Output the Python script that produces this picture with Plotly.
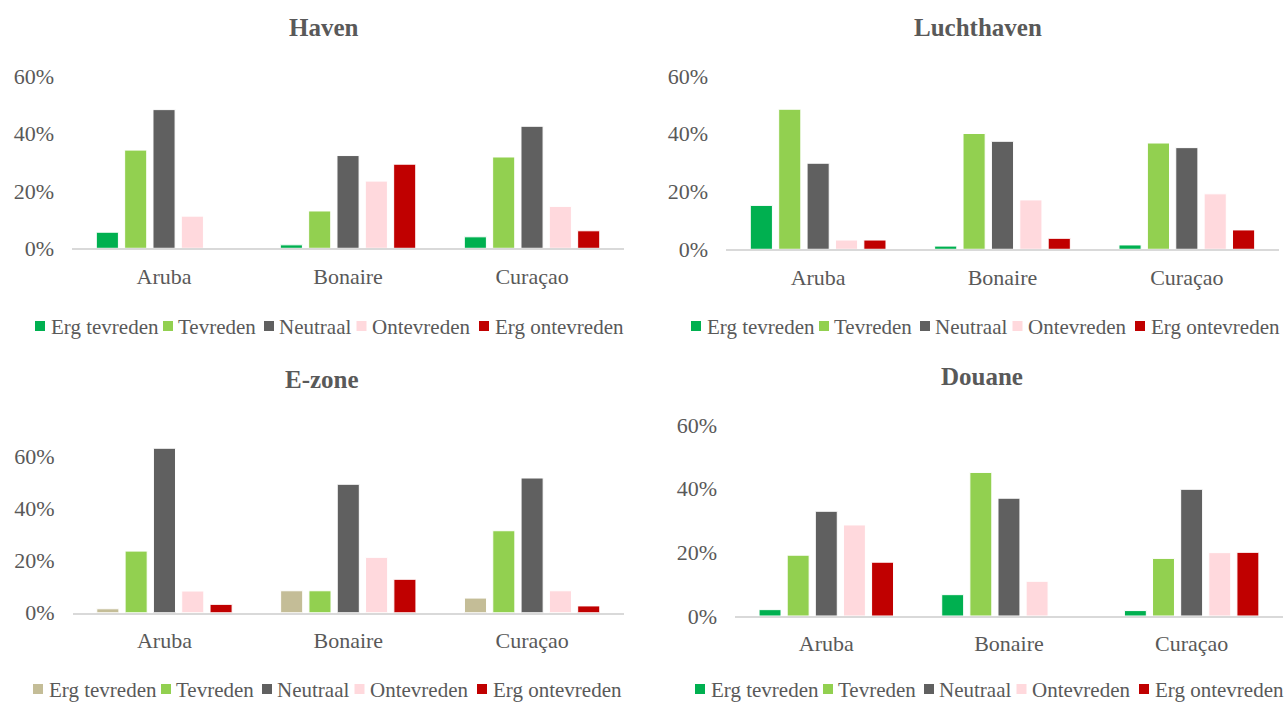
import plotly.graph_objects as go

categories = ["Aruba", "Bonaire", "Curaçao"]
series_names = ["Erg tevreden", "Tevreden", "Neutraal", "Ontevreden", "Erg ontevreden"]

# values per panel, per series (fractions), order: Aruba, Bonaire, Curaçao
haven_erg_tevreden = [0.056, 0.012, 0.040]
haven_tevreden = [0.342, 0.130, 0.318]
haven_neutraal = [0.483, 0.323, 0.425]
haven_ontevreden = [0.112, 0.234, 0.146]
haven_erg_ontevreden = [0.0, 0.293, 0.061]

lucht_erg_tevreden = [0.152, 0.011, 0.015]
lucht_tevreden = [0.485, 0.401, 0.368]
lucht_neutraal = [0.298, 0.374, 0.352]
lucht_ontevreden = [0.032, 0.171, 0.192]
lucht_erg_ontevreden = [0.032, 0.038, 0.067]

ezone_erg_tevreden = [0.015, 0.084, 0.056]
ezone_tevreden = [0.236, 0.084, 0.314]
ezone_neutraal = [0.630, 0.492, 0.516]
ezone_ontevreden = [0.083, 0.212, 0.084]
ezone_erg_ontevreden = [0.032, 0.128, 0.026]

douane_erg_tevreden = [0.020, 0.067, 0.017]
douane_tevreden = [0.191, 0.451, 0.181]
douane_neutraal = [0.329, 0.370, 0.398]
douane_ontevreden = [0.286, 0.109, 0.199]
douane_erg_ontevreden = [0.169, 0.0, 0.200]

panel_titles = ["Haven", "Luchthaven", "E-zone", "Douane"]
y_tick_vals = [0, 0.2, 0.4, 0.6]
y_tick_text = ["0%", "20%", "40%", "60%"]

colors = ["#00B050", "#92D050", "#606060", "#FFD9DD", "#C00000"]
colors_ezone = ["#C4BD97", "#92D050", "#606060", "#FFD9DD", "#C00000"]

W, H = 1284, 702

panels = [
    dict(title=panel_titles[0], data=[haven_erg_tevreden, haven_tevreden, haven_neutraal, haven_ontevreden, haven_erg_ontevreden],
         colors=colors, xdom=[0.0561, 0.4860], ydom=[0.6463, 0.8917], yrange=[0, 0.6],
         tx=0.2527, ty=0.9615, lx=35, ly=327),
    dict(title=panel_titles[1], data=[lucht_erg_tevreden, lucht_tevreden, lucht_neutraal, lucht_ontevreden, lucht_erg_ontevreden],
         colors=colors, xdom=[0.5654, 0.9961], ydom=[0.6449, 0.8917], yrange=[0, 0.6],
         tx=0.7617, ty=0.9615, lx=691, ly=327),
    dict(title=panel_titles[2], data=[ezone_erg_tevreden, ezone_tevreden, ezone_neutraal, ezone_ontevreden, ezone_erg_ontevreden],
         colors=colors_ezone, xdom=[0.0565, 0.4860], ydom=[0.1272, 0.3875], yrange=[0, 0.7],
         tx=0.2508, ty=0.4587, lx=33, ly=690),
    dict(title=panel_titles[3], data=[douane_erg_tevreden, douane_tevreden, douane_neutraal, douane_ontevreden, douane_erg_ontevreden],
         colors=colors, xdom=[0.5724, 0.9992], ydom=[0.1225, 0.3946], yrange=[0, 0.6],
         tx=0.7648, ty=0.4630, lx=695, ly=690),
]

# legend layout: offsets (px) of each swatch / label from the first swatch
swatch_off = [0, 128, 229, 321.5, 444]
label_off = [15, 142, 242.5, 336, 458.5]
SW = 10

FONT = "Liberation Serif"
TXT = "#595959"

fig = go.Figure()
annotations = []
shapes = []
layout_axes = {}
for i, p in enumerate(panels):
    n = "" if i == 0 else str(i + 1)
    xa, ya = "x" + n, "y" + n
    for s, name in enumerate(series_names):
        fig.add_trace(go.Bar(
            x=categories, y=p["data"][s], name=name,
            marker=dict(color=p["colors"][s], line=dict(color="white", width=1)),
            xaxis=xa, yaxis=ya, offsetgroup=str(s), showlegend=False,
        ))
        # legend entry: swatch + label
        x0 = p["lx"] + swatch_off[s]
        shapes.append(dict(
            type="rect", xref="paper", yref="paper",
            x0=x0 / W, x1=(x0 + SW) / W,
            y0=(H - p["ly"] - SW / 2 + 1) / H, y1=(H - p["ly"] + SW / 2 + 1) / H,
            fillcolor=p["colors"][s], line=dict(width=0),
        ))
        annotations.append(dict(
            text=name, x=(p["lx"] + label_off[s]) / W, y=(H - p["ly"]) / H,
            xref="paper", yref="paper", xanchor="left", yanchor="middle", showarrow=False,
            font=dict(family=FONT, size=21, color=TXT), xshift=-1,
        ))
    layout_axes["xaxis" + n] = dict(
        domain=p["xdom"], anchor=ya, showline=True, linecolor="#D9D9D9", linewidth=2,
        showgrid=False, zeroline=False, ticks="", ticklabelstandoff=7,
        tickfont=dict(family=FONT, size=22, color=TXT), fixedrange=True,
    )
    layout_axes["yaxis" + n] = dict(
        domain=p["ydom"], anchor=xa, range=p["yrange"], tickvals=y_tick_vals, ticktext=y_tick_text,
        showline=False, showgrid=False, zeroline=False, ticks="", ticklabelstandoff=17,
        tickfont=dict(family=FONT, size=22, color=TXT), fixedrange=True,
    )
    annotations.append(dict(
        text="<b>" + p["title"] + "</b>", x=p["tx"], y=p["ty"], xref="paper", yref="paper",
        xanchor="center", yanchor="middle", showarrow=False,
        font=dict(family=FONT, size=25, color=TXT),
    ))

fig.update_layout(
    width=W, height=H,
    margin=dict(l=0, r=0, t=0, b=0, autoexpand=False),
    paper_bgcolor="white", plot_bgcolor="white",
    barmode="group", bargap=0.23, bargroupgap=0.22,
    showlegend=False, annotations=annotations, shapes=shapes,
    **layout_axes,
)

fig.write_html(
    "out.html",
    config={"displayModeBar": False, "staticPlot": False},
    post_script="document.body.style.margin='0';document.body.style.overflow='hidden';",
)
